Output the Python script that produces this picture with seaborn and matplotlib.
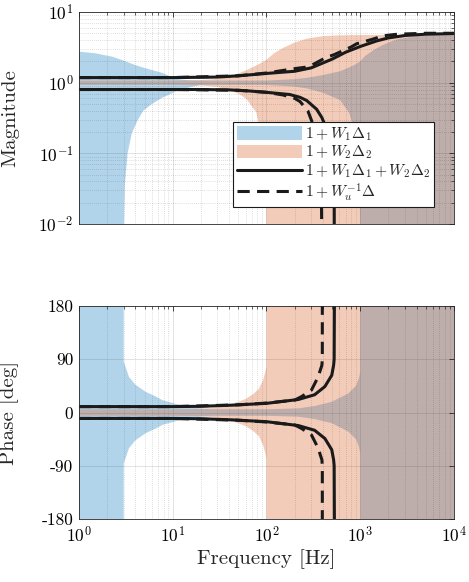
import numpy as np
import matplotlib
matplotlib.use("Agg")
import matplotlib.pyplot as plt
import seaborn as sns
from matplotlib.patches import Patch
from matplotlib.lines import Line2D

# ---------------- data ----------------
# Magnitude band 1 + W1*Delta1
b_up_f = [1, 1.5, 2.27, 3, 3.86, 5.1, 7.7, 9.1, 11.7, 15, 20, 50, 100, 200, 268, 400, 608, 765, 880, 1000, 1130, 1400, 1690, 2000, 2560, 3840, 6000, 10000]
b_up_v = [2.75, 2.6, 2.33, 2.05, 1.8, 1.6, 1.38, 1.25, 1.12, 1.08, 1.07, 1.07, 1.07, 1.12, 1.17, 1.28, 1.45, 1.65, 1.8, 2.0, 2.4, 2.9, 3.35, 3.7, 4.15, 4.5, 4.65, 4.7]
b_lo_f = [1, 3, 3.01, 3.08, 3.3, 3.65, 4.2, 4.85, 6.0, 7.7, 11.7, 17.5, 20, 50, 100, 200, 268, 400, 608, 765, 880, 950, 985, 998, 1000, 10000]
b_lo_v = [1e-3, 1e-3, 0.008, 0.035, 0.1, 0.19, 0.29, 0.4, 0.5, 0.61, 0.79, 0.9, 0.93, 0.93, 0.93, 0.88, 0.83, 0.72, 0.57, 0.37, 0.2, 0.08, 0.03, 0.01, 1e-3, 1e-3]
# Magnitude band 1 + W2*Delta2
o_up_f = [1, 10, 20, 30, 41, 52, 61, 78, 100, 120, 150, 200, 270, 400, 600, 1000, 10000]
o_up_v = [1.07, 1.07, 1.09, 1.13, 1.22, 1.38, 1.5, 1.75, 2.1, 2.6, 3.1, 3.7, 4.2, 4.55, 4.68, 4.72, 4.75]
o_lo_f = [1, 10, 20, 30, 41, 52, 61, 78, 92, 98, 99.7, 100, 10000]
o_lo_v = [0.93, 0.93, 0.91, 0.87, 0.78, 0.68, 0.59, 0.38, 0.13, 0.044, 0.013, 1e-3, 1e-3]
# Solid line 1 + W1D1 + W2D2 (magnitude bounds)
s_up_f = [1, 10, 30, 50, 100, 200, 300, 500, 700, 1000, 1500, 2000, 3000, 5000, 10000]
s_up_v = [1.18, 1.18, 1.2, 1.25, 1.35, 1.45, 1.62, 2.15, 2.7, 3.25, 3.9, 4.3, 4.65, 4.85, 4.95]
s_lo_f = [1, 10, 20, 40, 60, 100, 177, 228, 268, 343, 390, 459, 500, 520, 528, 530]
s_lo_v = [0.8, 0.8, 0.8, 0.79, 0.77, 0.73, 0.68, 0.62, 0.56, 0.42, 0.32, 0.19, 0.1, 0.06, 0.02, 1e-3]
# Dashed line 1 + Wu^-1 Delta (magnitude bounds)
d_up_f = [1, 10, 50, 100, 200, 257, 300, 440, 520, 800, 915, 1340, 1750, 2500, 5000, 10000]
d_up_v = [1.18, 1.18, 1.25, 1.37, 1.58, 1.65, 1.75, 2.3, 2.47, 3.2, 3.55, 4.1, 4.6, 4.85, 5.0, 5.0]
d_lo_f = [1, 10, 50, 100, 150, 200, 228, 276, 320, 360, 385, 394]
d_lo_v = [0.8, 0.8, 0.78, 0.73, 0.67, 0.6, 0.54, 0.4, 0.24, 0.1, 0.03, 1e-3]

# Phase (upper bounds, bands are symmetric about 0)
bp_f = [1, 3, 3, 3.42, 4, 5.14, 6.6, 7.74, 11.7, 17.5, 25, 100, 218, 326, 497, 743, 900, 970, 1000, 1000, 10000]
bp_v = [180, 180, 86, 60, 47, 35, 27, 21, 13, 8, 5.5, 5.5, 7, 11, 18, 32, 45, 58, 69, 180, 180]
op_f = [1, 10, 20, 30, 40, 50, 60, 72, 83, 92, 97, 100, 100, 10000]
op_v = [5.5, 5.5, 6, 9, 13, 18, 23, 31, 40, 55, 68, 78, 180, 180]
sp_f = [1, 10, 20, 44, 100, 218, 326, 420, 497, 520, 527, 530]
sp_v = [10, 10, 10.5, 12.5, 15.5, 22, 30, 44, 63, 80, 90, 180]
dp_f = [1, 10, 50, 100, 200, 237, 302, 355, 390, 394, 394]
dp_v = [10, 10, 13, 16, 21, 27, 38, 60, 80, 90, 180]

labels = [r"$1 + W_1\Delta_1$", r"$1 + W_2\Delta_2$",
          r"$1 + W_1\Delta_1 + W_2\Delta_2$", r"$1 + W_u^{-1}\Delta$"]
mag_ticks = [1e-2, 1e-1, 1e0, 1e1]
phase_ticks = [-180, -90, 0, 90, 180]
phase_ticklabels = ["-180", "-90", "0", "90", "180"]
freq_ticks = [1e0, 1e1, 1e2, 1e3, 1e4]

# ---------------- style ----------------
sns.set_theme(style="white")
plt.rcParams.update({
    "font.family": "serif",
    "font.serif": ["cmr10", "DejaVu Serif"],
    "mathtext.fontset": "cm",
    "axes.formatter.use_mathtext": True,
    "axes.unicode_minus": False,
    "axes.edgecolor": "#262626",
    "axes.linewidth": 0.6,
    "xtick.direction": "in",
    "ytick.direction": "in",
    "xtick.top": True,
    "ytick.right": True,
    "xtick.color": "#262626",
    "ytick.color": "#262626",
    "xtick.labelcolor": "black",
    "ytick.labelcolor": "black",
})

blue = (0.0, 0.447, 0.741)
orange = (0.85, 0.325, 0.098)
alpha = 0.3
lw = 2.2
dash = (0, (4.0, 2.4))

fig = plt.figure(figsize=(4.69, 5.82), dpi=100)
ax1 = fig.add_axes([0.1684, 0.6151, 0.7996, 0.3643])
ax2 = fig.add_axes([0.1684, 0.1082, 0.7996, 0.3660])


def poly(fu, vu, fl, vl):
    x = np.r_[np.asarray(fu, float), np.asarray(fl, float)[::-1]]
    y = np.r_[np.asarray(vu, float), np.asarray(vl, float)[::-1]]
    return x, y


def style_grid(ax, ylog):
    ax.set_axisbelow("line")
    ax.grid(True, which="major", color="#262626", alpha=0.15, linewidth=0.6, linestyle="-")
    ax.grid(True, which="minor", axis="x", color="#262626", alpha=0.3, linewidth=0.5, linestyle=(0, (1, 2)))
    if ylog:
        ax.grid(True, which="minor", axis="y", color="#262626", alpha=0.3, linewidth=0.5, linestyle=(0, (1, 2)))
    ax.tick_params(which="major", length=3.5, width=0.6, labelsize=12.5, pad=4)
    ax.tick_params(which="minor", length=2, width=0.5)


# ---------------- magnitude ----------------
for ax in (ax1, ax2):
    ax.set_xscale("log")
    ax.set_xlim(1, 1e4)

ax1.set_yscale("log")
ax1.set_ylim(1e-2, 1e1)
x, y = poly(b_up_f, b_up_v, b_lo_f, b_lo_v)
ax1.fill(x, y, color=blue, alpha=alpha, lw=0)
x, y = poly(o_up_f, o_up_v, o_lo_f, o_lo_v)
ax1.fill(x, y, color=orange, alpha=alpha, lw=0)
for f, v in ((s_up_f, s_up_v), (s_lo_f, s_lo_v)):
    sns.lineplot(x=f, y=v, ax=ax1, color="k", lw=lw, estimator=None, sort=False)
for f, v in ((d_up_f, d_up_v), (d_lo_f, d_lo_v)):
    sns.lineplot(x=f, y=v, ax=ax1, color="k", lw=lw, linestyle=dash, estimator=None, sort=False)
ax1.set_yticks(mag_ticks)
ax1.set_xticks(freq_ticks)
ax1.set_xticklabels([])
ax1.set_ylabel("Magnitude", fontsize=15)
ax1.yaxis.set_label_coords(-0.16, 0.5)
style_grid(ax1, True)

handles = [Patch(facecolor=blue, alpha=alpha, edgecolor="none"),
           Patch(facecolor=orange, alpha=alpha, edgecolor="none"),
           Line2D([0], [0], color="k", lw=lw),
           Line2D([0], [0], color="k", lw=lw, linestyle=dash)]
leg = ax1.legend(handles, labels, loc="lower right", bbox_to_anchor=(0.947, 0.079),
                 borderaxespad=0, fontsize=11.2, frameon=True, fancybox=False,
                 edgecolor="k", framealpha=1, handlelength=4.2, handleheight=1.0,
                 handletextpad=0.2, borderpad=0.22, labelspacing=0.08)
leg.get_frame().set_linewidth(0.8)

# ---------------- phase ----------------
ax2.set_ylim(-180, 180)
x, y = poly(bp_f, bp_v, bp_f, [-v for v in bp_v])
ax2.fill(x, y, color=blue, alpha=alpha, lw=0)
x, y = poly(op_f, op_v, op_f, [-v for v in op_v])
ax2.fill(x, y, color=orange, alpha=alpha, lw=0)
for v in (sp_v, [-a for a in sp_v]):
    sns.lineplot(x=sp_f, y=v, ax=ax2, color="k", lw=lw, estimator=None, sort=False)
for v in (dp_v, [-a for a in dp_v]):
    sns.lineplot(x=dp_f, y=v, ax=ax2, color="k", lw=lw, linestyle=dash, estimator=None, sort=False)
ax2.set_yticks(phase_ticks)
ax2.set_yticklabels(phase_ticklabels)
ax2.set_xticks(freq_ticks)
ax2.set_xlabel("Frequency [Hz]", fontsize=15, labelpad=3)
ax2.set_ylabel("Phase [deg]", fontsize=15)
ax2.yaxis.set_label_coords(-0.16, 0.5)
style_grid(ax2, False)

fig.savefig("out.png", dpi=100)
